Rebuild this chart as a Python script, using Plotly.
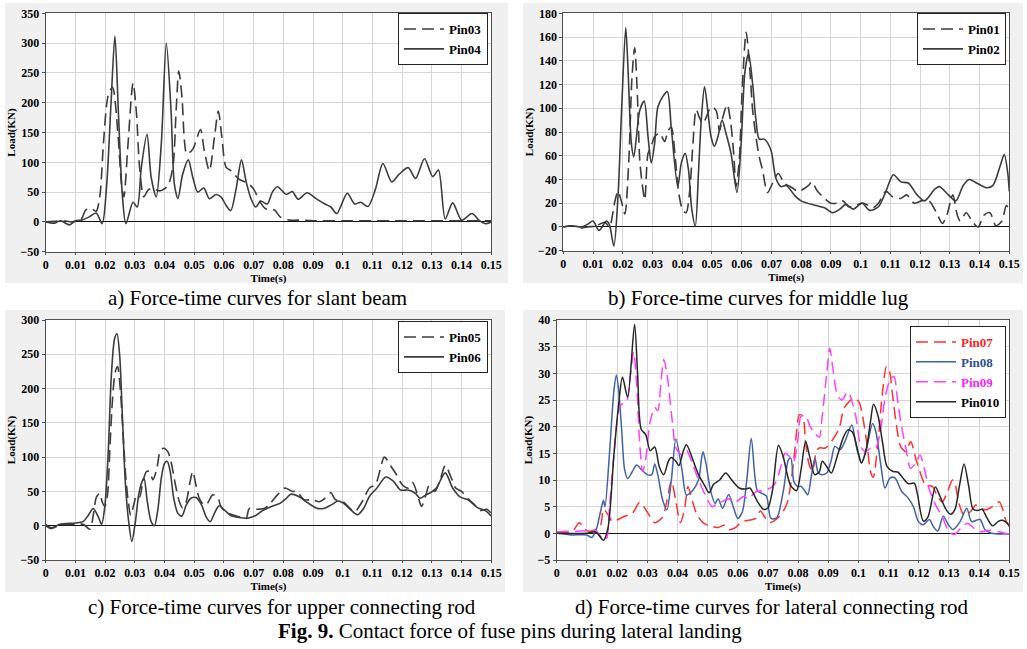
import plotly.graph_objects as go

# ---------------- data (time in s, load in kN) ----------------
X_TICK_VALUES = [0, 0.01, 0.02, 0.03, 0.04, 0.05, 0.06, 0.07, 0.08, 0.09, 0.10, 0.11, 0.12, 0.13, 0.14, 0.15]
X_TICK_TEXT = ["0", "0.01", "0.02", "0.03", "0.04", "0.05", "0.06", "0.07", "0.08", "0.09",
               "0.1", "0.11", "0.12", "0.13", "0.14", "0.15"]

# a) slant beam
pin03_t = [0, 0.003, 0.006, 0.009, 0.012, 0.0135, 0.0155, 0.017, 0.0182, 0.0195, 0.021, 0.0225, 0.0244, 0.0255,
           0.0263, 0.0277, 0.0294, 0.0305, 0.0316, 0.033, 0.0344, 0.036, 0.038, 0.041, 0.0428, 0.0439, 0.0448,
           0.0459, 0.0467, 0.0475, 0.0495, 0.0521, 0.0534, 0.0551, 0.0568, 0.0581, 0.0593, 0.0607, 0.0623, 0.065,
           0.068, 0.070, 0.072, 0.074, 0.077, 0.079, 0.082, 0.085, 0.09, 0.1, 0.11, 0.12, 0.13, 0.14, 0.15]
pin03_v = [0, 1, 2, 0, 5, 20, 22, 18, 42, 136, 211, 226, 142, 64, 42, 130, 233, 186, 92, 42, 53, 57, 52, 60, 92,
           186, 253, 208, 136, 114, 122, 155, 119, 86, 142, 186, 142, 92, 86, 72, 65, 55, 35, 22, 20, 8, 3, 3, 2,
           2, 2, 2, 2, 2, 2]
pin04_t = [0, 0.003, 0.005, 0.008, 0.010, 0.012, 0.0145, 0.017, 0.019, 0.0205, 0.022, 0.0233, 0.0245, 0.0258,
           0.027, 0.0294, 0.0308, 0.0322, 0.0341, 0.0355, 0.0372, 0.0389, 0.0406, 0.0422, 0.0433, 0.0445, 0.0461,
           0.048, 0.0495, 0.0512, 0.0532, 0.0551, 0.0573, 0.059, 0.0607, 0.0623, 0.064, 0.0659, 0.0674, 0.0691,
           0.0707, 0.0724, 0.0746, 0.0763, 0.078, 0.081, 0.083, 0.085, 0.088, 0.091, 0.094, 0.096, 0.098, 0.1015,
           0.104, 0.106, 0.1085, 0.111, 0.1135, 0.1165, 0.119, 0.122, 0.1245, 0.1275, 0.1303, 0.1322, 0.1345,
           0.137, 0.140, 0.1435, 0.146, 0.148, 0.150]
pin04_v = [0, -2, 2, -5, 2, 3, 8, 15, -3, 60, 200, 312, 180, 45, -3, 33, 25, 92, 147, 75, 42, 130, 300, 186, 64,
           39, 80, 104, 75, 50, 57, 39, 46, 42, 28, 19, 53, 104, 69, 39, 25, 35, 30, 50, 59, 46, 51, 38, 49, 39,
           30, 25, 14, 48, 30, 33, 26, 55, 98, 67, 80, 91, 73, 106, 76, 87, 5, 32, 3, 14, 2, -3, 0]

# b) middle lug
pin01_t = [0, 0.003, 0.005, 0.008, 0.011, 0.014, 0.0155, 0.0173, 0.0184, 0.0196, 0.0207, 0.022, 0.0231, 0.024,
           0.0249, 0.0257, 0.0265, 0.0274, 0.0285, 0.0296, 0.0307, 0.0324, 0.0341, 0.0352, 0.0363, 0.0377, 0.0388,
           0.0402, 0.0413, 0.0425, 0.0436, 0.0447, 0.0458, 0.0469, 0.048, 0.0497, 0.0514, 0.0525, 0.0536, 0.0551,
           0.0562, 0.0573, 0.0581, 0.0592, 0.0601, 0.0615, 0.0626, 0.0637, 0.0648, 0.0659, 0.067, 0.0687, 0.0704,
           0.0723, 0.0743, 0.077, 0.079, 0.0825, 0.0835, 0.0855, 0.0875, 0.090, 0.092, 0.094, 0.096, 0.0985, 0.100,
           0.102, 0.104, 0.106, 0.1085, 0.111, 0.1135, 0.1155, 0.118, 0.1205, 0.123, 0.1255, 0.1275, 0.129, 0.131,
           0.1325, 0.1335, 0.1355, 0.1375, 0.1395, 0.1415, 0.1435, 0.1455, 0.1475, 0.149, 0.150]
pin01_v = [0, 1, -1, 0, 1, 4, 0, 21, 30, 21, 11, 54, 126, 151, 112, 57, 37, 23, 62, 68, 76, 79, 72, 81, 84, 57, 29,
           14, 12, 30, 70, 99, 92, 87, 92, 101, 98, 81, 92, 103, 90, 62, 34, 57, 112, 164, 137, 98, 76, 59, 48, 29,
           37, 45, 37, 33, 30, 35, 38, 30, 25, 20, 20, 22, 17, 18, 20, 19, 16, 20, 30, 25, 24, 27, 20, 22, 22, 12,
           3, 10, 27, 10, 5, 12, 5, 0, 10, 12, 1, 5, 18, 15]
pin02_t = [0, 0.003, 0.006, 0.008, 0.010, 0.012, 0.0145, 0.0155, 0.017, 0.0184, 0.0196, 0.021, 0.0218, 0.0229,
           0.0237, 0.0246, 0.0257, 0.0272, 0.0285, 0.0296, 0.0307, 0.0318, 0.0335, 0.035, 0.0363, 0.0385, 0.0397,
           0.041, 0.0421, 0.0432, 0.0444, 0.0455, 0.0464, 0.0475, 0.0486, 0.0497, 0.0508, 0.052, 0.0534, 0.0547,
           0.0564, 0.0584, 0.0598, 0.0611, 0.0623, 0.0637, 0.0648, 0.0659, 0.0676, 0.0698, 0.0715, 0.0732, 0.075,
           0.078, 0.080, 0.085, 0.088, 0.0905, 0.093, 0.095, 0.0975, 0.1005, 0.103, 0.106, 0.1085, 0.111, 0.1135,
           0.116, 0.119, 0.1215, 0.125, 0.1265, 0.1295, 0.132, 0.1345, 0.1365, 0.139, 0.1425, 0.1445, 0.147,
           0.1483, 0.1495, 0.150]
pin02_v = [0, 1, 0, 2, 5, -3, 5, 2, -16, 26, 98, 168, 131, 70, 59, 76, 98, 106, 76, 54, 70, 101, 110, 114, 84, 34,
           54, 62, 48, 15, 1, 48, 90, 118, 98, 76, 68, 76, 90, 79, 62, 29, 70, 131, 146, 120, 90, 74, 74, 65, 41,
           34, 35, 26, 22, 18, 16, 12, 15, 19, 15, 20, 14, 17, 30, 44, 38, 37, 27, 22, 32, 34, 27, 22, 35, 40, 37,
           33, 35, 52, 61, 45, 30]

# c) upper connecting rod
pin05_t = [0, 0.002, 0.0048, 0.010, 0.0126, 0.0149, 0.016, 0.0171, 0.0182, 0.019, 0.0199, 0.0208, 0.0216, 0.0225,
           0.0234, 0.0242, 0.0251, 0.026, 0.0269, 0.0278, 0.0286, 0.0296, 0.0307, 0.0316, 0.0327, 0.0339, 0.035,
           0.0361, 0.0374, 0.0385, 0.0397, 0.0411, 0.0422, 0.0437, 0.045, 0.0461, 0.0473, 0.0486, 0.0495, 0.0506,
           0.0517, 0.0534, 0.0545, 0.0562, 0.0579, 0.059, 0.0607, 0.0629, 0.0651, 0.0674, 0.0685, 0.0702, 0.0735,
           0.0755, 0.078, 0.0805, 0.083, 0.0845, 0.087, 0.090, 0.092, 0.094, 0.096, 0.0975, 0.100, 0.1025, 0.104,
           0.1065, 0.109, 0.111, 0.1125, 0.114, 0.1165, 0.118, 0.120, 0.122, 0.1235, 0.1255, 0.1265, 0.128, 0.129,
           0.131, 0.133, 0.1345, 0.1365, 0.138, 0.140, 0.142, 0.1445, 0.146, 0.1485, 0.150]
pin05_v = [0, -4, 1, 2, 2, -5, 15, 42, 47, 35, 28, 45, 113, 185, 224, 232, 200, 137, 74, 35, 15, 30, 45, 42, 64,
           79, 79, 67, 83, 108, 113, 108, 93, 59, 35, 26, 35, 64, 79, 59, 40, 30, 33, 45, 41, 28, 20, 16, 13, 10,
           25, 24, 25, 32, 45, 55, 50, 50, 38, 38, 35, 40, 48, 38, 35, 25, 20, 35, 55, 60, 80, 100, 85, 75, 60, 55,
           63, 40, 28, 45, 58, 50, 70, 88, 70, 55, 50, 40, 30, 22, 24, 18]
pin06_t = [0, 0.002, 0.0048, 0.010, 0.0126, 0.0143, 0.016, 0.0177, 0.0188, 0.0199, 0.021, 0.0221, 0.0232, 0.024,
           0.0249, 0.0258, 0.0268, 0.0278, 0.029, 0.0302, 0.0313, 0.0324, 0.0331, 0.0342, 0.0355, 0.0366, 0.0378,
           0.0389, 0.040, 0.0409, 0.0419, 0.0431, 0.0445, 0.0458, 0.0473, 0.0489, 0.0506, 0.0525, 0.054, 0.0554,
           0.057, 0.0584, 0.0601, 0.0623, 0.0651, 0.0679, 0.0707, 0.073, 0.076, 0.079, 0.081, 0.0825, 0.085, 0.088,
           0.091, 0.0935, 0.096, 0.0985, 0.1005, 0.103, 0.105, 0.107, 0.109, 0.1115, 0.1145, 0.117, 0.1195, 0.122,
           0.1245, 0.126, 0.128, 0.1295, 0.1315, 0.1345, 0.137, 0.1395, 0.142, 0.1455, 0.148, 0.150]
pin06_v = [2, -3, 2, 4, 6, 15, 25, 13, 2, 28, 103, 219, 273, 280, 248, 161, 64, 11, -23, 6, 45, 64, 69, 35, 6, 0,
           25, 69, 91, 94, 79, 40, 18, 14, 30, 40, 41, 30, 13, 6, 20, 29, 23, 15, 12, 11, 15, 22, 28, 33, 40, 46,
           43, 34, 26, 25, 30, 36, 32, 22, 16, 25, 43, 55, 71, 65, 52, 52, 47, 40, 45, 48, 55, 77, 55, 42, 38, 26,
           22, 14]

# d) lateral connecting rod
pin07_t = [0, 0.005, 0.0075, 0.009, 0.010, 0.012, 0.0145, 0.0155, 0.017, 0.0185, 0.020, 0.0225, 0.025, 0.0275,
           0.030, 0.0325, 0.035, 0.0365, 0.038, 0.0395, 0.041, 0.0425, 0.0435, 0.045, 0.0465, 0.0485, 0.051,
           0.0535, 0.0555, 0.057, 0.059, 0.0615, 0.064, 0.066, 0.0675, 0.069, 0.0705, 0.0735, 0.0762, 0.0784,
           0.0795, 0.0804, 0.0815, 0.0825, 0.0837, 0.0848, 0.086, 0.087, 0.089, 0.0914, 0.0936, 0.0952, 0.0969,
           0.0986, 0.1002, 0.1013, 0.103, 0.104, 0.1049, 0.1063, 0.108, 0.1093, 0.1102, 0.1113, 0.1126, 0.114,
           0.1157, 0.1173, 0.119, 0.1207, 0.1223, 0.1245, 0.1262, 0.1278, 0.1295, 0.1312, 0.132, 0.1332, 0.135,
           0.1372, 0.1389, 0.1406, 0.1422, 0.1444, 0.1467, 0.1477, 0.1488, 0.150]
pin07_v = [0.3, 0.3, 2, 1, 0.5, 0.5, 1.5, 4.5, 3.5, 2.2, 2.5, 3.2, 3.7, 5.8, 4, 2, 3, 6, 9.8, 6, 2, 5, 8.8, 6, 3.5,
           2, 1.3, 1.1, 1.5, 0.7, 1, 2.2, 2.5, 2.8, 4.2, 3, 2, 3, 5.4, 12.9, 19, 22.2, 22, 17, 12.8, 11.7, 15.3, 16,
           16, 17.5, 19.7, 23.4, 24.7, 25.4, 24.6, 22.2, 16, 11.6, 10.5, 16, 26.6, 31.3, 30.6, 26, 20.3, 16.25,
           15.3, 17.2, 14, 11, 9, 8.8, 6.9, 5.9, 7.8, 10, 9.4, 5.9, 3.4, 4.1, 5.3, 4.7, 4.4, 5, 5.9, 4.7, 2.5, 1.25]
pin08_t = [0, 0.005, 0.010, 0.0115, 0.013, 0.0145, 0.0155, 0.016, 0.0175, 0.019, 0.0198, 0.0205, 0.0215, 0.0225,
           0.0235, 0.025, 0.0265, 0.028, 0.030, 0.0315, 0.0325, 0.0335, 0.035, 0.0365, 0.038, 0.0395, 0.0415,
           0.043, 0.045, 0.047, 0.048, 0.0485, 0.0495, 0.051, 0.0525, 0.0535, 0.055, 0.057, 0.0585, 0.060, 0.0615,
           0.063, 0.0645, 0.0665, 0.068, 0.0695, 0.071, 0.0729, 0.0751, 0.0768, 0.0776, 0.0786, 0.0798, 0.081,
           0.0823, 0.0832, 0.0843, 0.0856, 0.0867, 0.088, 0.0895, 0.0909, 0.0922, 0.0939, 0.0955, 0.0978, 0.0994,
           0.101, 0.1027, 0.1047, 0.1058, 0.1074, 0.1088, 0.1105, 0.1121, 0.1143, 0.1165, 0.1182, 0.1199, 0.1215,
           0.1235, 0.1248, 0.1263, 0.1281, 0.1298, 0.1314, 0.1337, 0.1359, 0.1375, 0.1403, 0.1419, 0.1441, 0.150]
pin08_v = [0, -0.3, -0.3, -0.8, 0.5, 4, 6.2, 5, 15, 27, 29.7, 27, 19.7, 12, 10.3, 11.5, 12.8, 12, 11, 11, 13, 11,
           6.5, 4.4, 10, 17.7, 12, 7.2, 8, 10, 14, 15.3, 13, 8, 5.6, 6.5, 4.7, 7.3, 5, 2.8, 4, 10, 17.8, 8, 7.5, 7,
           2.8, 2.9, 7.9, 13.8, 14.1, 9.7, 8.8, 8.8, 7.9, 7.2, 10.4, 14.1, 11.3, 11, 11.3, 13.5, 16.3, 15.7, 17.2,
           20.3, 16, 13.2, 16, 20.6, 19, 12.9, 8.5, 10.4, 10.4, 7.9, 6.6, 5, 2.2, 1.6, 2.6, 1.3, 0.4, 3.2, 1.6,
           0.7, 2.2, 4.7, 2.2, 2.6, 0.7, 0, -0.1]
pin09_t = [0, 0.0115, 0.013, 0.0145, 0.0155, 0.0165, 0.0175, 0.019, 0.0205, 0.0215, 0.023, 0.0245, 0.0255, 0.0265,
           0.0275, 0.0285, 0.0295, 0.031, 0.0325, 0.0335, 0.0345, 0.0355, 0.0365, 0.037, 0.0385, 0.0395, 0.0415,
           0.043, 0.045, 0.047, 0.049, 0.0515, 0.053, 0.055, 0.057, 0.0585, 0.0597, 0.0619, 0.0635, 0.066, 0.068,
           0.0705, 0.072, 0.0735, 0.0745, 0.0757, 0.077, 0.0785, 0.080, 0.081, 0.0825, 0.084, 0.0855, 0.087, 0.088,
           0.0895, 0.0905, 0.0915, 0.093, 0.0945, 0.0965, 0.0991, 0.1008, 0.1024, 0.104, 0.1057, 0.1074, 0.109,
           0.1107, 0.1118, 0.1129, 0.114, 0.1157, 0.1173, 0.119, 0.1204, 0.1218, 0.1234, 0.1256, 0.1278, 0.130,
           0.1317, 0.1339, 0.1361, 0.1384, 0.1406, 0.1433, 0.1466, 0.150]
pin09_v = [0.3, 0.5, 0.5, -0.5, -1.2, -1, 5, 15, 23, 24.2, 24.5, 30, 34, 28, 17, 11.6, 14, 21, 23.6, 23, 28, 32.6,
           30, 28, 20, 16, 14.7, 15.6, 13, 10, 7.5, 5, 5.5, 6, 6.5, 5.8, 6, 6.9, 6.5, 7.8, 8, 8.4, 9, 11, 13, 15,
           14.5, 13.5, 18, 22, 22, 20, 18.8, 18, 22, 30, 34.7, 31, 26, 25, 26.5, 22, 16.25, 15.3, 16, 16, 19.7, 26,
           29, 29.4, 25.3, 21, 16, 12.2, 13.2, 14.7, 12.2, 8.4, 5.3, 3.1, 0.3, -0.2, 0.9, 1.9, 0.9, 0.3, 0.6, 0.3,
           -0.2]
pin010_t = [0, 0.010, 0.0125, 0.0135, 0.0155, 0.017, 0.019, 0.0205, 0.0218, 0.0235, 0.0258, 0.0268, 0.028, 0.0295,
            0.031, 0.0325, 0.034, 0.0355, 0.037, 0.038, 0.0395, 0.0405, 0.042, 0.043, 0.045, 0.047, 0.049, 0.0505,
            0.052, 0.054, 0.056, 0.058, 0.0605, 0.0625, 0.064, 0.0665, 0.0685, 0.070, 0.0715, 0.0735, 0.075, 0.0775,
            0.0795, 0.081, 0.0825, 0.084, 0.0855, 0.087, 0.088, 0.0895, 0.091, 0.093, 0.095, 0.0965, 0.098, 0.100,
            0.101, 0.1025, 0.104, 0.105, 0.1065, 0.108, 0.1095, 0.1115, 0.113, 0.115, 0.1165, 0.1185, 0.1195,
            0.1215, 0.123, 0.1255, 0.127, 0.129, 0.1305, 0.132, 0.1335, 0.135, 0.1365, 0.138, 0.1395, 0.141,
            0.1425, 0.1445, 0.1465, 0.148, 0.150]
pin010_v = [0, 0, 0.3, 0, -1.3, 1, 15, 24, 29.3, 25.5, 39.2, 30, 19.5, 18.5, 15.5, 16.2, 12.5, 11, 13.5, 14.2,
            13.5, 12.7, 15.5, 16.6, 14, 11, 9, 7.6, 9.2, 10, 11.3, 10, 8.5, 8.3, 8.5, 6, 4.5, 4.8, 8, 16.5, 14.5,
            9, 8, 12, 17.2, 14, 11, 11.5, 13.5, 12.5, 11.3, 14.5, 18, 19.4, 19, 15, 13.2, 15.5, 21, 24.2, 22, 17,
            12.5, 11.6, 11.5, 10.2, 9.3, 9.4, 7.5, 2.3, 3, 8.7, 7, 4.5, 3.6, 4.5, 9, 13, 9, 4.5, 4.3, 4.5, 3, 1.4,
            2.3, 2.4, 1.5]

# ---------------- styling ----------------
W, H = 1027, 649
FONT = "Liberation Serif, Times New Roman, serif"
GRID = "#d6d6d6"
PANEL = "#f0f0f0"
GREY_LINE = "#3c3c3c"
DASH = "12px,6px"


def px_x(p):
    return p / W


def px_y(p):
    return 1 - p / H


# plot areas in pixels: (left, right, top, bottom)
AREAS = {
    "a": (45.7, 491.3, 13.3, 251.7),
    "b": (563.3, 1009.3, 13.3, 250.7),
    "c": (45.7, 491.3, 320.0, 560.0),
    "d": (556.7, 1009.3, 320.0, 560.0),
}
PANELS = {
    "a": (5, 508, 3, 283),
    "b": (523, 1023, 3, 283),
    "c": (5, 505, 310, 592),
    "d": (523, 1023, 310, 592),
}
YCONF = {"a": (-50, 350, 50), "b": (-20, 180, 20), "c": (-50, 300, 50), "d": (-5, 40, 5)}
AX = {"a": ("x", "y", ""), "b": ("x2", "y2", "2"), "c": ("x3", "y3", "3"), "d": ("x4", "y4", "4")}

fig = go.Figure()

series = [
    ("a", pin03_t, pin03_v, "Pin03", GREY_LINE, DASH, 1.6),
    ("a", pin04_t, pin04_v, "Pin04", GREY_LINE, "solid", 1.6),
    ("b", pin01_t, pin01_v, "Pin01", GREY_LINE, DASH, 1.6),
    ("b", pin02_t, pin02_v, "Pin02", GREY_LINE, "solid", 1.6),
    ("c", pin05_t, pin05_v, "Pin05", GREY_LINE, DASH, 1.6),
    ("c", pin06_t, pin06_v, "Pin06", GREY_LINE, "solid", 1.6),
    ("d", pin07_t, pin07_v, "<span style='color:#ff2020'>Pin07</span>", "#ff3030", DASH, 1.5),
    ("d", pin08_t, pin08_v, "<span style='color:#2f4f96'>Pin08</span>", "#4262a4", "solid", 1.5),
    ("d", pin09_t, pin09_v, "<span style='color:#ff20ff'>Pin09</span>", "#ff40ff", DASH, 1.5),
    ("d", pin010_t, pin010_v, "Pin010", "#262626", "solid", 1.5),
]

for key, t, v, name, color, dash, width in series:
    if len(t) != len(v):
        raise ValueError(f"length mismatch for {name}: {len(t)} vs {len(v)}")
    xa, ya, suf = AX[key]
    fig.add_trace(go.Scatter(
        x=t, y=v, name=name, mode="lines", xaxis=xa, yaxis=ya,
        line=dict(color=color, dash=dash, width=width, shape="spline", smoothing=0.8),
        legend="legend" + suf, hoverinfo="skip",
    ))

tick_font = dict(family=FONT, size=12, color="black", weight="bold")
title_font = dict(family=FONT, size=11, color="black", weight="bold")

layout = dict(
    width=W, height=H, margin=dict(l=0, r=0, t=0, b=0, pad=0, autoexpand=False),
    paper_bgcolor="white", plot_bgcolor="white",
    showlegend=True, shapes=[], annotations=[],
)

# top-right corner of each legend box (pixels, tuned to the rendered position)
LEGEND_POS = {"a": (488, 13), "b": (1006, 13), "c": (488, 321), "d": (1006, 326)}

for key, (l, r, t, b) in AREAS.items():
    xa, ya, suf = AX[key]
    ymin, ymax, dy = YCONF[key]
    layout["xaxis" + suf] = dict(
        domain=[px_x(l), px_x(r)], anchor=ya, range=[0, 0.15], automargin=False,
        tickmode="array", tickvals=X_TICK_VALUES, ticktext=X_TICK_TEXT,
        showgrid=True, gridcolor=GRID, gridwidth=1, zeroline=False,
        showline=True, mirror=True, linecolor="#505050", linewidth=1,
        ticks="outside", ticklen=2, tickcolor="#505050",
        tickfont=tick_font, title=dict(text="Time(s)", font=title_font, standoff=0),
    )
    layout["yaxis" + suf] = dict(
        domain=[px_y(b), px_y(t)], anchor=xa, range=[ymin, ymax], automargin=False,
        tickmode="linear", tick0=ymin, dtick=dy,
        showgrid=True, gridcolor=GRID, gridwidth=1,
        zeroline=True, zerolinecolor="#111111", zerolinewidth=1,
        showline=True, mirror=True, linecolor="#505050", linewidth=1,
        ticks="outside", ticklen=3, tickcolor="#505050",
        tickfont=tick_font,
        title=dict(text="Load(KN)", font=dict(family=FONT, size=11, color="black", weight="bold"), standoff=2),
    )
    # panel background + white plot area
    pl, pr, pt, pb = PANELS[key]
    layout["shapes"].append(dict(type="rect", xref="paper", yref="paper", layer="below",
                                 x0=px_x(pl), x1=px_x(pr), y0=px_y(pb), y1=px_y(pt),
                                 fillcolor=PANEL, line=dict(width=0)))
    layout["shapes"].append(dict(type="rect", xref="paper", yref="paper", layer="below",
                                 x0=px_x(l), x1=px_x(r), y0=px_y(b), y1=px_y(t),
                                 fillcolor="white", line=dict(width=0)))
    lx, ly = LEGEND_POS[key]
    layout["legend" + suf] = dict(
        x=px_x(lx), y=px_y(ly), xanchor="right", yanchor="top",
        bgcolor="white", bordercolor="#222222", borderwidth=1,
        font=dict(family=FONT, size=13, color="black", weight="bold"),
        tracegroupgap=0, itemwidth=40,
    )

CAPTIONS = [
    ("a) Force-time curves for slant beam", 257, 298),
    ("b) Force-time curves for middle lug", 758, 298),
    ("c) Force-time curves for upper connecting rod", 282, 607),
    ("d) Force-time curves for lateral connecting rod", 772, 607),
    ("<b>Fig. 9.</b> Contact force of fuse pins during lateral landing", 510, 631),
]
for text, cx, cy in CAPTIONS:
    layout["annotations"].append(dict(
        text=text, x=px_x(cx), y=px_y(cy), xref="paper", yref="paper",
        xanchor="center", yanchor="middle", showarrow=False,
        font=dict(family=FONT, size=21, color="black"),
    ))

fig.update_layout(**layout)
fig.write_html("out.html", config={"displayModeBar": False},
               post_script="document.body.style.margin='0px';")
